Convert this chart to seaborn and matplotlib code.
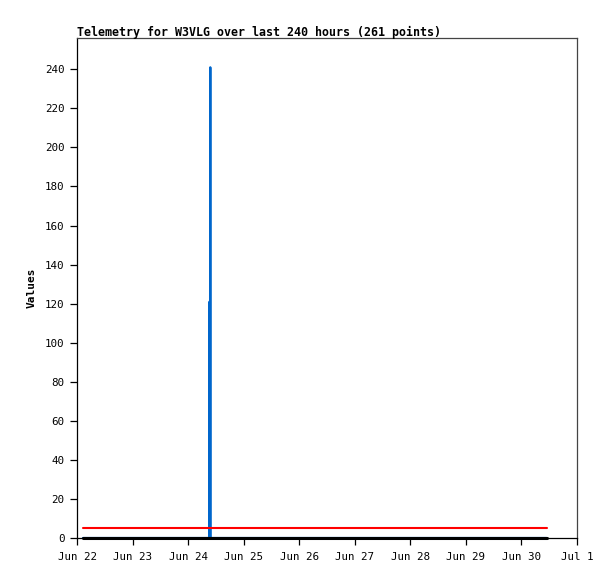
import pandas as pd
import numpy as np
import seaborn as sns
import matplotlib
matplotlib.use("Agg")
import matplotlib.pyplot as plt
import matplotlib.dates as mdates
from matplotlib.ticker import FuncFormatter

# data
span_start = "2024-06-22 02:35"
span_end = "2024-06-30 10:50"
red_level = [5, 5]
black_level = [0, 0]

spike_times = ["2024-06-24 09:05", "2024-06-24 09:15", "2024-06-24 09:25",
               "2024-06-24 09:35", "2024-06-24 09:45"]
spike_values = [0, 121, 0, 241, 0]

title = "Telemetry for W3VLG over last 240 hours (261 points)"
y_ticks = list(range(0, 241, 20))
x_tick_days = pd.date_range("2024-06-22", "2024-07-01", freq="D")

red_df = pd.DataFrame({"time": pd.to_datetime([span_start, span_end]), "value": red_level})
black_df = pd.DataFrame({"time": pd.to_datetime([span_start, span_end]), "value": black_level})
blue_df = pd.DataFrame({
    "time": pd.to_datetime([span_start] + spike_times + [span_end]),
    "value": [0] + spike_values + [0],
})

sns.set_style("white")
plt.rcParams['font.family'] = ['DejaVu Sans Mono', 'DejaVu Sans']
plt.rcParams['text.color'] = 'black'
plt.rcParams['axes.labelcolor'] = 'black'
plt.rcParams['xtick.color'] = 'black'
plt.rcParams['ytick.color'] = 'black'

fig = plt.figure(figsize=(6.15, 5.79), dpi=100)
ax = fig.add_axes([77 / 615, 1 - 538 / 579, 500 / 615, 500 / 579])

sns.lineplot(data=blue_df, x="time", y="value", ax=ax, color="#0066cc", lw=1.6)
sns.lineplot(data=red_df, x="time", y="value", ax=ax, color="#ff0000", lw=1.5)
sns.lineplot(data=black_df, x="time", y="value", ax=ax, color="#000000", lw=2.2, clip_on=False)

ax.set_xlim(pd.Timestamp("2024-06-22"), pd.Timestamp("2024-07-01"))
ax.set_ylim(0, 256)
ax.set_xticks(x_tick_days)
ax.xaxis.set_major_formatter(FuncFormatter(
    lambda v, pos: "{} {}".format(mdates.num2date(v).strftime("%b"), mdates.num2date(v).day)))
ax.set_yticks(y_ticks)

ax.tick_params(axis="both", direction="out", length=5, width=0.9, color="black",
               labelsize=7.8, pad=4, bottom=True, left=True)
ax.tick_params(axis="x", pad=5)

for side in ["left", "bottom"]:
    ax.spines[side].set_color("black")
    ax.spines[side].set_linewidth(0.9)
for side in ["top", "right"]:
    ax.spines[side].set_color("#444444")
    ax.spines[side].set_linewidth(0.9)

ax.set_xlabel("")
ax.set_ylabel("Values", fontsize=8, fontweight="bold", labelpad=6)
ax.set_title(title, loc="left", fontsize=8.4, fontweight="bold", pad=1.5)

fig.savefig("out.png", dpi=100)
